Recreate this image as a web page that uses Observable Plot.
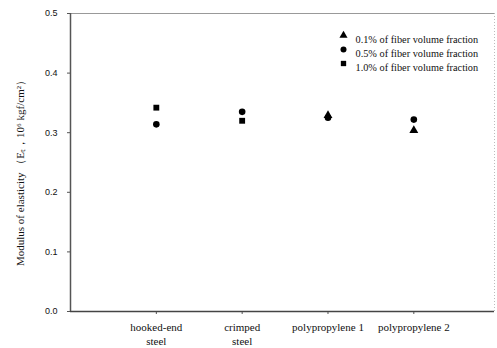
<!DOCTYPE html>
<html>
<head>
<meta charset="utf-8">
<script src="https://cdn.jsdelivr.net/npm/d3@7"></script>
<script src="https://cdn.jsdelivr.net/npm/@observablehq/plot@0.6"></script>
<style>
  html, body { margin: 0; padding: 0; background: #fff; }
  #chart svg { display: block; }
</style>
</head>
<body>
<div id="chart"></div>
<script>
const categories = ["hooked-end\nsteel", "crimped\nsteel", "polypropylene 1", "polypropylene 2"];
const seriesLabels = ["0.1% of fiber volume fraction", "0.5% of fiber volume fraction", "1.0% of fiber volume fraction"];
const seriesSymbols = ["triangle", "circle", "square"];
const frac01 = [null, null, 0.329, 0.304];
const frac05 = [0.314, 0.335, 0.325, 0.322];
const frac10 = [0.342, 0.320, null, null];
const yTicks = [0, 0.1, 0.2, 0.3, 0.4, 0.5];
const yLabel = "Modulus of elasticity （Eₜ，10⁶ kgf/cm²）";

const seriesValues = [frac01, frac05, frac10];
const rows = [];
seriesValues.forEach((vals, s) => {
  vals.forEach((v, i) => {
    if (v != null) rows.push({pos: i + 1, value: v, series: seriesLabels[s]});
  });
});

const legendMarks = seriesLabels.flatMap((lab, i) => [
  Plot.dot([lab], {frameAnchor: "top-left", dx: 273, dy: 22 + 14 * i, symbol: d => d, fill: "#000", r: 3}),
  Plot.text([lab], {frameAnchor: "top-left", dx: 285, dy: 22 + 14 * i, text: d => d, textAnchor: "start", fontSize: 10.3, fill: "#111"})
]);

const chart = Plot.plot({
  width: 497,
  height: 348,
  marginLeft: 70,
  marginRight: 3,
  marginTop: 13,
  marginBottom: 37,
  style: {fontFamily: "Liberation Serif", background: "#fff", color: "#111"},
  x: {domain: [0, 4.94]},
  y: {domain: [0, 0.5]},
  symbol: {domain: seriesLabels, range: seriesSymbols},
  marks: [
    Plot.ruleY([0.5], {stroke: "#999", strokeWidth: 1}),
    Plot.ruleX([4.94], {stroke: "#bbb", strokeDasharray: "1,2"}),
    Plot.axisY({ticks: yTicks, tickFormat: d3.format(".1f"), tickSize: 3, tickPadding: 10, fontFamily: "Liberation Sans", fontSize: 9, label: null, stroke: "#555", fill: "#111"}),
    Plot.axisX({ticks: categories.map((_, i) => i + 1), tickFormat: d => categories[d - 1], tickSize: 3, tickPadding: 7, fontSize: 11, lineHeight: 1.25, label: null, stroke: "#555", fill: "#111"}),
    Plot.ruleX([0], {stroke: "#555", strokeWidth: 1.5}),
    Plot.ruleY([0], {stroke: "#444", strokeWidth: 1.5}),
    Plot.dot(rows, {x: "pos", y: "value", symbol: "series", fill: "#000", r: 3.3}),
    Plot.text([yLabel], {frameAnchor: "left", textAnchor: "middle", rotate: -90, dx: -50, dy: 8, text: d => d, fontSize: 11, fill: "#111"}),
    ...legendMarks
  ]
});
document.getElementById("chart").appendChild(chart);
</script>
</body>
</html>
